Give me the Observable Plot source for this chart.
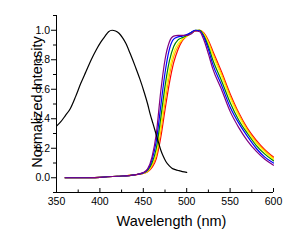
<!DOCTYPE html>
<html>
<head>
<meta charset="utf-8">
<script src="https://cdn.jsdelivr.net/npm/d3@7"></script>
<script src="https://cdn.jsdelivr.net/npm/@observablehq/plot@0.6"></script>
<style>
  html, body { margin: 0; padding: 0; background: #fff; }
  #chart { width: 298px; height: 247px; }
</style>
</head>
<body>
<div id="chart"></div>
<script>
// Excitation spectrum (black)
const exWl  = [350, 355, 360, 366, 372, 378, 384, 390, 396, 401, 406, 410, 414, 418, 422, 426, 430, 435, 441, 446, 451, 455, 458, 461, 464, 467, 470, 473, 476, 480, 483, 487, 491, 495, 500];
const exVal = [0.35, 0.38, 0.42, 0.47, 0.55, 0.64, 0.72, 0.80, 0.87, 0.92, 0.96, 0.99, 1.0, 0.995, 0.98, 0.95, 0.91, 0.84, 0.75, 0.67, 0.58, 0.50, 0.43, 0.37, 0.31, 0.25, 0.19, 0.145, 0.11, 0.08, 0.065, 0.055, 0.048, 0.042, 0.037];

// Emission spectra
const emWl   = [360, 380, 400, 420, 440, 450, 455, 460, 465, 470, 475, 480, 485, 490, 495, 500, 505, 510, 515, 520, 525, 530, 540, 550, 560, 570, 580, 590, 600];
const purple = [0, 0, 0.003, 0.01, 0.02, 0.035, 0.06, 0.14, 0.30, 0.58, 0.80, 0.92, 0.96, 0.965, 0.965, 0.965, 0.975, 0.995, 0.99, 0.93, 0.84, 0.74, 0.60, 0.45, 0.34, 0.25, 0.18, 0.125, 0.085];
const blue   = [0, 0, 0.003, 0.01, 0.02, 0.033, 0.055, 0.12, 0.25, 0.48, 0.71, 0.87, 0.94, 0.955, 0.96, 0.97, 0.985, 1.0, 0.995, 0.95, 0.87, 0.77, 0.63, 0.48, 0.37, 0.28, 0.20, 0.14, 0.10];
const green  = [0, 0, 0.003, 0.01, 0.02, 0.032, 0.05, 0.10, 0.20, 0.40, 0.62, 0.79, 0.89, 0.935, 0.95, 0.965, 0.985, 1.0, 1.0, 0.96, 0.89, 0.80, 0.66, 0.51, 0.39, 0.30, 0.22, 0.16, 0.115];
const yellow = [0, 0, 0.003, 0.01, 0.02, 0.031, 0.045, 0.09, 0.17, 0.35, 0.56, 0.73, 0.85, 0.91, 0.94, 0.96, 0.98, 0.997, 1.0, 0.97, 0.91, 0.83, 0.69, 0.54, 0.415, 0.315, 0.235, 0.175, 0.125];
const orange = [0, 0, 0.003, 0.01, 0.02, 0.030, 0.042, 0.08, 0.15, 0.31, 0.51, 0.69, 0.82, 0.89, 0.935, 0.96, 0.98, 0.996, 1.0, 0.975, 0.92, 0.845, 0.705, 0.555, 0.43, 0.325, 0.245, 0.183, 0.133];
const red    = [0, 0, 0.003, 0.01, 0.02, 0.030, 0.04, 0.07, 0.13, 0.27, 0.46, 0.64, 0.78, 0.87, 0.93, 0.96, 0.98, 0.995, 1.0, 0.98, 0.93, 0.86, 0.72, 0.57, 0.44, 0.335, 0.255, 0.19, 0.14];

const seriesNames  = ["red", "orange", "yellow", "green", "blue", "purple"];
const seriesValues = [red, orange, yellow, green, blue, purple];
const seriesColors = ["#ff1a00", "#ff8c00", "#e8d800", "#00cc00", "#0010ff", "#8a10a0"];

const xTicks = [350, 400, 450, 500, 550, 600];
const xMinor = [375, 425, 475, 525, 575];
const yTicks = [0, 0.2, 0.4, 0.6, 0.8, 1.0];
const yMinor = [-0.1, 0.1, 0.3, 0.5, 0.7, 0.9, 1.1];

const xLabel = "Wavelength (nm)";
const yLabel = "Normalized Intensity";

const exData = exWl.map((w, i) => ({wl: w, v: exVal[i]}));
const emData = seriesNames.flatMap((name, s) => emWl.map((w, i) => ({wl: w, v: seriesValues[s][i], series: name})));

const chart = Plot.plot({
  width: 298,
  height: 247,
  marginLeft: 56,
  marginRight: 25,
  marginTop: 15,
  marginBottom: 55,
  style: {fontFamily: "'Liberation Sans', Arial, sans-serif", fontSize: "10.5px", color: "#000", background: "#fff"},
  x: {domain: [350, 600]},
  y: {domain: [-0.1, 1.1]},
  color: {domain: seriesNames, range: seriesColors},
  marks: [
    Plot.line(emData, {x: "wl", y: "v", z: "series", stroke: "series", strokeWidth: 1.2, curve: "monotone-x"}),
    Plot.line(exData, {x: "wl", y: "v", stroke: "#000", strokeWidth: 1.2, curve: "monotone-x"}),
    Plot.ruleX([350], {stroke: "#000"}),
    Plot.ruleY([-0.1], {stroke: "#000"}),
    Plot.axisY({ticks: yTicks, tickFormat: d3.format(".1f"), tickSize: 5, tickPadding: 1.5, label: null}),
    Plot.axisY({ticks: yMinor, tickFormat: () => "", tickSize: 3, label: null}),
    Plot.axisX({ticks: xTicks, tickFormat: d => String(d), tickSize: 4, dy: -4, tickPadding: 5, label: null}),
    Plot.axisX({ticks: xMinor, tickFormat: () => "", tickSize: 2.5, dy: -2.5, label: null}),
    Plot.text([xLabel], {text: d => d, frameAnchor: "bottom", textAnchor: "middle", lineAnchor: "middle", dx: 6.5, dy: 29, fontSize: 14.5, fill: "#000"}),
    Plot.text([yLabel], {text: d => d, frameAnchor: "left", textAnchor: "middle", lineAnchor: "middle", rotate: -90, dx: -19, dy: -2, fontSize: 14.5, fill: "#000"})
  ]
});
document.getElementById("chart").appendChild(chart);
</script>
</body>
</html>
